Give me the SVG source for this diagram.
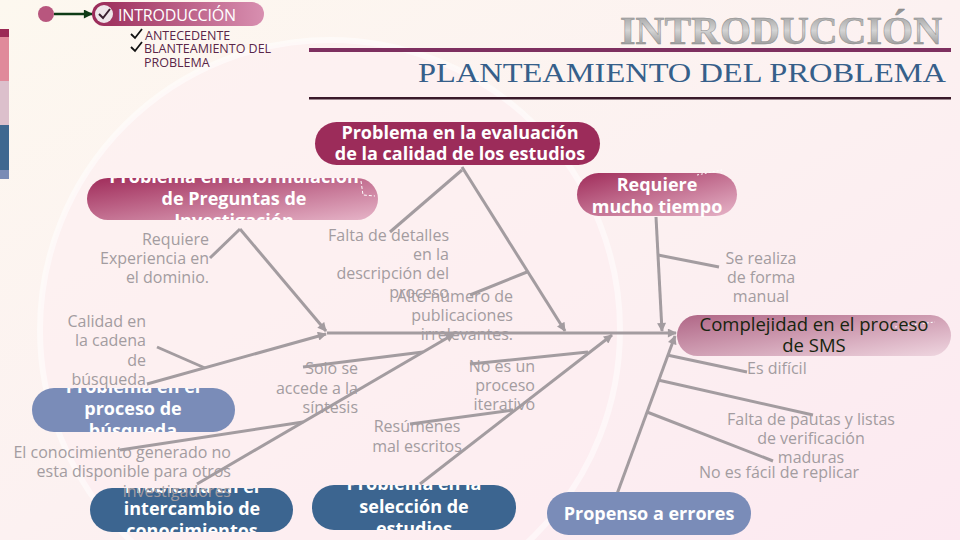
<svg xmlns="http://www.w3.org/2000/svg" width="960" height="540" viewBox="0 0 960 540">
<defs>
<linearGradient id="bg" x1="0" y1="0" x2="1" y2="1">
<stop offset="0" stop-color="#fdf8ef"/>
<stop offset="0.5" stop-color="#fcf1f1"/>
<stop offset="1" stop-color="#fce9f1"/>
</linearGradient>
<linearGradient id="gMag" x1="0" y1="0" x2="1" y2="1">
<stop offset="0" stop-color="#a02c5a"/>
<stop offset="1" stop-color="#e6b4c8"/>
</linearGradient>
<linearGradient id="gTop" x1="0" y1="0" x2="1" y2="0">
<stop offset="0" stop-color="#9a2a58"/>
<stop offset="1" stop-color="#d88fb0"/>
</linearGradient>
<linearGradient id="gCompl" x1="0" y1="0" x2="1" y2="1">
<stop offset="0" stop-color="#b06686"/>
<stop offset="1" stop-color="#efd6e0"/>
</linearGradient>
<linearGradient id="gTitle" x1="0" y1="0" x2="0" y2="1">
<stop offset="0" stop-color="#8c8c8c"/>
<stop offset="0.5" stop-color="#d4d4d4"/>
<stop offset="1" stop-color="#7c7c7c"/>
</linearGradient>
<marker id="ah" viewBox="0 0 10 10" refX="9" refY="5" markerWidth="10" markerHeight="9" markerUnits="userSpaceOnUse" orient="auto">
<path d="M0,0 L10,5 L0,10 z" fill="#a39ca0"/>
</marker>
<marker id="ahg" viewBox="0 0 10 10" refX="9" refY="5" markerWidth="10" markerHeight="9" markerUnits="userSpaceOnUse" orient="auto">
<path d="M0,0 L10,5 L0,10 z" fill="#0e3b16"/>
</marker>
<clipPath id="cForm"><rect x="87" y="178" width="291" height="42" rx="21"/></clipPath>
<clipPath id="cBus"><rect x="32" y="388" width="203" height="44" rx="22"/></clipPath>
<clipPath id="cInt"><rect x="90" y="488" width="203" height="44" rx="22"/></clipPath>
<clipPath id="cSel"><rect x="312" y="485" width="204" height="45" rx="22"/></clipPath>
<style>
.lbl{font-family:"Open Sans","DejaVu Sans",sans-serif;font-size:16px;fill:#a39ca0}
.nt{font-family:"Open Sans","DejaVu Sans",sans-serif;font-size:18px;font-weight:bold;fill:#ffffff;text-anchor:middle}
.cn{fill:none;stroke:#a39ca0;stroke-width:3}
.r{text-anchor:end}
.m{text-anchor:middle}
</style>
</defs>
<rect width="960" height="540" fill="url(#bg)"/>
<circle cx="330" cy="330" r="290" fill="#fdedf2" fill-opacity="0.5" stroke="#ffffff" stroke-opacity="0.5" stroke-width="6"/>
<g id="strip">
<rect x="0" y="29" width="9" height="8" fill="#9b2a55"/>
<rect x="0" y="37" width="9" height="44" fill="#e08a9a"/>
<rect x="0" y="81" width="9" height="44" fill="#dcc0cc"/>
<rect x="0" y="125" width="9" height="45" fill="#3f6890"/>
<rect x="0" y="170" width="9" height="9" fill="#7b8cb5"/>
</g>
<g id="nav">
<circle cx="46" cy="14" r="8" fill="#b8567e"/>
<line x1="54" y1="14" x2="92" y2="14" stroke="#0e3b16" stroke-width="2.5" marker-end="url(#ahg)"/>
<rect x="92" y="2" width="172" height="24" rx="12" fill="url(#gTop)"/>
<circle cx="104" cy="14" r="9" fill="#efe6ea"/>
<path d="M99,14 L103,18 L110,9" fill="none" stroke="#3a2030" stroke-width="2"/>
<text x="118" y="21" font-family="'Open Sans','DejaVu Sans',sans-serif" font-size="16" fill="#ffffff" textLength="118">INTRODUCCIÓN</text>
<g font-family="'Open Sans','DejaVu Sans',sans-serif" font-size="12.5" fill="#5a2648">
<path d="M131,34 L135,38 L142,29" fill="none" stroke="#111" stroke-width="1.8"/>
<text x="145" y="40">ANTECEDENTE</text>
<path d="M131,47 L135,51 L142,42" fill="none" stroke="#111" stroke-width="1.8"/>
<text x="144" y="53">BLANTEAMIENTO DEL</text>
<text x="144" y="67">PROBLEMA</text>
</g>
</g>
<g id="title">
<text x="942" y="44" text-anchor="end" font-family="'Liberation Serif','DejaVu Serif',serif" font-weight="bold" font-size="40" fill="url(#gTitle)" stroke="#8a8a8a" stroke-width="0.5" textLength="322" lengthAdjust="spacingAndGlyphs">INTRODUCCIÓN</text>
<rect x="309" y="48" width="642" height="4" fill="#7e3060"/>
<text x="946" y="82" text-anchor="end" font-family="'Liberation Serif','DejaVu Serif',serif" font-size="27" fill="#365f8a" textLength="528" lengthAdjust="spacingAndGlyphs">PLANTEAMIENTO DEL PROBLEMA</text>
<rect x="309" y="97" width="642" height="2.5" fill="#3a1a2a"/>
</g>
<g id="connectors">
<line class="cn" x1="327" y1="333" x2="676" y2="333" marker-end="url(#ah)"/>
<line class="cn" x1="240" y1="229" x2="326" y2="331" marker-end="url(#ah)"/>
<line class="cn" x1="240" y1="229" x2="210" y2="258"/>
<line class="cn" x1="462" y1="167" x2="565" y2="331" marker-end="url(#ah)"/>
<line class="cn" x1="462" y1="170" x2="390" y2="232"/>
<line class="cn" x1="527" y1="272" x2="470" y2="295"/>
<line class="cn" x1="656" y1="217" x2="662" y2="331" marker-end="url(#ah)"/>
<line class="cn" x1="658" y1="255" x2="719" y2="267"/>
<line class="cn" x1="617" y1="494" x2="675" y2="336" marker-end="url(#ah)"/>
<line class="cn" x1="667" y1="355" x2="747" y2="372"/>
<line class="cn" x1="658" y1="380" x2="813" y2="415"/>
<line class="cn" x1="647" y1="412" x2="773" y2="461"/>
<line class="cn" x1="420" y1="484" x2="612" y2="335" marker-end="url(#ah)"/>
<line class="cn" x1="588" y1="352" x2="470" y2="364"/>
<line class="cn" x1="513" y1="410" x2="410" y2="424"/>
<line class="cn" x1="147" y1="384" x2="326" y2="334" marker-end="url(#ah)"/>
<line class="cn" x1="205" y1="368" x2="157" y2="347"/>
<line class="cn" x1="197" y1="484" x2="454" y2="334" marker-end="url(#ah)"/>
<line class="cn" x1="423" y1="352" x2="303" y2="367"/>
<line class="cn" x1="303" y1="422" x2="120" y2="450"/>
</g>
<g id="n-evaluacion">
<rect x="315" y="122" width="285" height="43" rx="21.5" fill="#9c2c5a"/>
<text class="nt" x="460" y="139">Problema en la evaluación</text>
<text class="nt" x="460" y="160">de la calidad de los estudios</text>
</g>
<g id="n-formulacion">
<rect x="87" y="178" width="291" height="42" rx="21" fill="url(#gMag)"/>
<path d="M361,181 L363,195 L375,196" fill="none" stroke="#ffffff" stroke-width="1" stroke-dasharray="3,2"/>
<g clip-path="url(#cForm)">
<text class="nt" x="234" y="183">Problema en la formulación</text>
<text class="nt" x="234" y="205">de Preguntas de</text>
<text class="nt" x="234" y="227">Investigación</text>
</g>
</g>
<g id="n-tiempo">
<rect x="577" y="173" width="160" height="43" rx="21.5" fill="url(#gMag)"/>
<path d="M697,175 L722,170" fill="none" stroke="#ffffff" stroke-width="1" stroke-dasharray="2,2"/>
<text class="nt" x="657" y="191">Requiere</text>
<text class="nt" x="657" y="213">mucho tiempo</text>
</g>
<g id="n-complejidad">
<rect x="677" y="315" width="274" height="41" rx="20.5" fill="url(#gCompl)"/>
<path d="M895,327 L935,322" fill="none" stroke="#ffffff" stroke-width="1" stroke-dasharray="2,2"/>
<text x="814" y="331" text-anchor="middle" font-family="'Open Sans','DejaVu Sans',sans-serif" font-size="18.5" fill="#16240f">Complejidad en el proceso</text>
<text x="814" y="352" text-anchor="middle" font-family="'Open Sans','DejaVu Sans',sans-serif" font-size="18.5" fill="#16240f">de SMS</text>
</g>
<g id="n-busqueda">
<rect x="32" y="388" width="203" height="44" rx="22" fill="#7a8cb8"/>
<g clip-path="url(#cBus)">
<text class="nt" x="133" y="393">Problema en el</text>
<text class="nt" x="133" y="415">proceso de</text>
<text class="nt" x="133" y="437">búsqueda</text>
</g>
</g>
<g id="n-intercambio">
<rect x="90" y="488" width="203" height="44" rx="22" fill="#3c6590"/>
<g clip-path="url(#cInt)">
<text class="nt" x="192" y="493">Problema en el</text>
<text class="nt" x="192" y="515">intercambio de</text>
<text class="nt" x="192" y="537">conocimientos</text>
</g>
</g>
<g id="n-seleccion">
<rect x="312" y="485" width="204" height="45" rx="22" fill="#3c6590"/>
<g clip-path="url(#cSel)">
<text class="nt" x="414" y="490">Problema en la</text>
<text class="nt" x="414" y="513">selección de</text>
<text class="nt" x="414" y="535">estudios</text>
</g>
</g>
<g id="n-propenso">
<rect x="547" y="492" width="204" height="43" rx="21.5" fill="#7a8cb8"/>
<text class="nt" x="649" y="520">Propenso a errores</text>
</g>
<g id="labels">
<text class="lbl r" x="209" y="245">Requiere</text>
<text class="lbl r" x="209" y="264">Experiencia en</text>
<text class="lbl r" x="209" y="283">el dominio.</text>
<text class="lbl r" x="449" y="241">Falta de detalles</text>
<text class="lbl r" x="449" y="260">en la</text>
<text class="lbl r" x="449" y="279">descripción del</text>
<text class="lbl r" x="449" y="298">proceso</text>
<text class="lbl r" x="513" y="302">Alto número de</text>
<text class="lbl r" x="513" y="321">publicaciones</text>
<text class="lbl r" x="513" y="340">irrelevantes.</text>
<text class="lbl r" x="146" y="327">Calidad en</text>
<text class="lbl r" x="146" y="346">la cadena</text>
<text class="lbl r" x="146" y="366">de</text>
<text class="lbl r" x="146" y="385">búsqueda</text>
<text class="lbl r" x="358" y="374">Solo se</text>
<text class="lbl r" x="358" y="394">accede a la</text>
<text class="lbl r" x="358" y="413">síntesis</text>
<text class="lbl r" x="535" y="372">No es un</text>
<text class="lbl r" x="535" y="391">proceso</text>
<text class="lbl r" x="535" y="410">iterativo</text>
<text class="lbl m" x="417" y="432">Resúmenes</text>
<text class="lbl m" x="417" y="452">mal escritos</text>
<text class="lbl r" x="231" y="458">El conocimiento generado no</text>
<text class="lbl r" x="231" y="477">esta disponible para otros</text>
<text class="lbl r" x="231" y="497">investigadores</text>
<text class="lbl m" x="761" y="264">Se realiza</text>
<text class="lbl m" x="761" y="283">de forma</text>
<text class="lbl m" x="761" y="302">manual</text>
<text class="lbl" x="747" y="374">Es difícil</text>
<text class="lbl m" x="811" y="425">Falta de pautas y listas</text>
<text class="lbl m" x="811" y="444">de verificación</text>
<text class="lbl m" x="811" y="463">maduras</text>
<text class="lbl m" x="779" y="478">No es fácil de replicar</text>
</g>
</svg>
